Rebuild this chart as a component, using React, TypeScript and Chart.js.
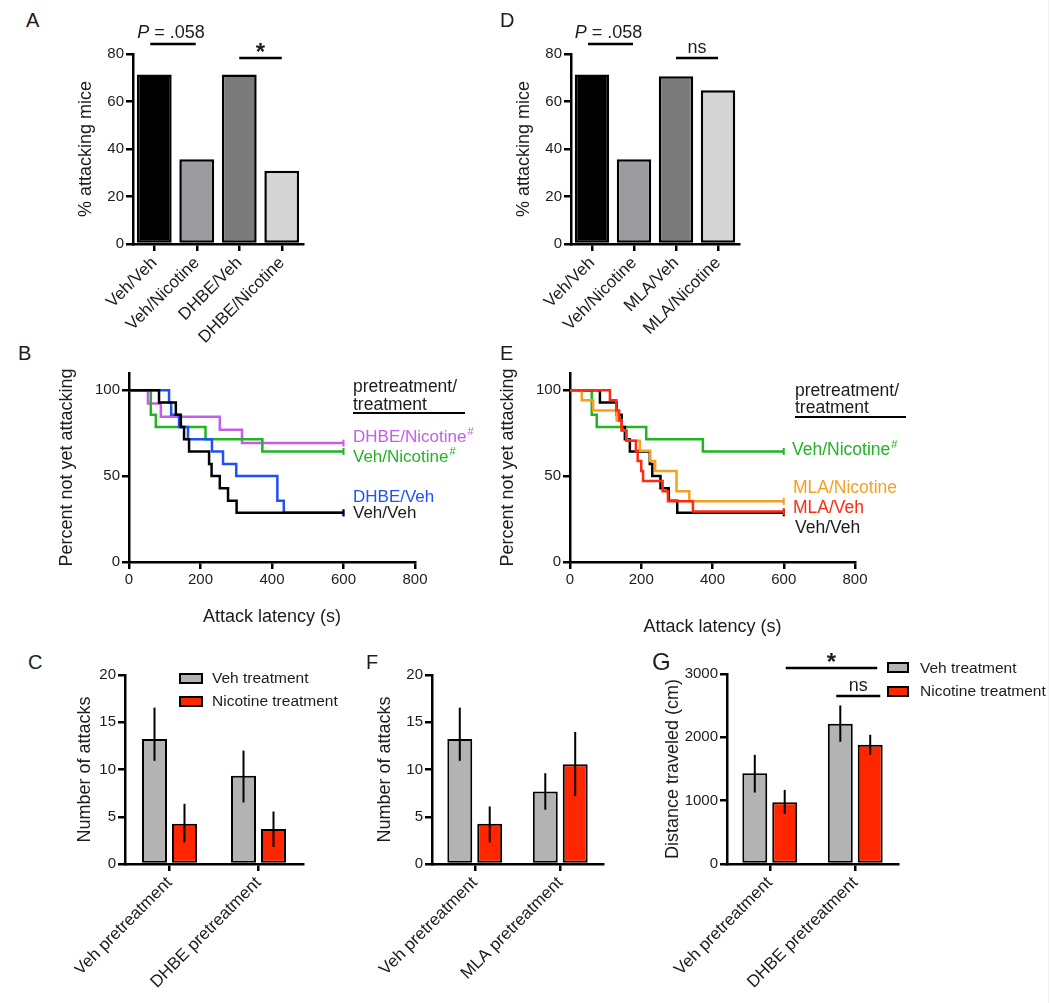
import React, { useEffect, useRef } from 'react';
import { Chart, registerables } from 'chart.js';

Chart.register(...registerables);

const FONT = '"Liberation Sans", Arial, Helvetica, sans-serif';
const INK = '#1c1c1c';

// ---------------- data ----------------
// Panel A
const aCategories = ['Veh/Veh', 'Veh/Nicotine', 'DHBE/Veh', 'DHBE/Nicotine'];
const aPercent = [71.4, 35.7, 71.4, 30.8];
// Panel D
const dCategories = ['Veh/Veh', 'Veh/Nicotine', 'MLA/Veh', 'MLA/Nicotine'];
const dPercent = [71.4, 35.7, 70.6, 64.7];
const pctBarColors = ['#000000', '#9b9ba0', '#7b7b7b', '#d4d4d4'];

// Panel B / E survival curves (time s, percent not yet attacking)
const vehVehT = [0, 84, 131, 145, 154, 168, 224, 231, 254, 277, 301, 600];
const vehVehP = [100, 92.9, 85.7, 78.6, 71.4, 64.3, 57.1, 50, 42.9, 35.7, 28.6, 28.6];
const dhbeVehT = [0, 112, 118, 140, 165, 232, 263, 300, 415, 433, 600];
const dhbeVehP = [100, 92.9, 85.7, 78.6, 71.4, 64.3, 57.1, 50, 35.7, 28.6, 28.6];
const dhbeNicT = [0, 53, 89, 254, 316, 600];
const dhbeNicP = [100, 92.3, 84.6, 76.9, 69.2, 69.2];
const vehNicT = [0, 61, 75, 214, 373, 600];
const vehNicP = [100, 85.7, 78.6, 71.4, 64.3, 64.3];
const mlaNicT = [0, 33, 65, 131, 145, 159, 196, 225, 239, 299, 335, 600];
const mlaNicP = [100, 94.1, 88.2, 82.4, 76.5, 70.6, 64.7, 58.8, 52.9, 41.2, 35.3, 35.3];
const mlaVehT = [0, 112, 130, 138, 145, 158, 185, 190, 200, 205, 260, 275, 345, 600];
const mlaVehP = [100, 94.1, 88.2, 82.4, 76.5, 70.6, 64.7, 58.8, 52.9, 47.1, 41.2, 35.3, 29.4, 29.4];

// Panel C
const cCategories = ['Veh pretreatment', 'DHBE pretreatment'];
const cVeh = [13.24, 9.33];
const cVehErr = [[10.92, 16.55], [6.51, 12.0]];
const cNic = [4.26, 3.7];
const cNicErr = [[2.29, 6.37], [1.8, 5.56]];
// Panel F
const fCategories = ['Veh pretreatment', 'MLA pretreatment'];
const fVeh = [13.24, 7.68];
const fVehErr = [[10.92, 16.55], [5.74, 9.61]];
const fNic = [4.26, 10.56];
const fNicErr = [[2.29, 6.09], [7.22, 13.98]];
// Panel G
const gCategories = ['Veh pretreatment', 'DHBE pretreatment'];
const gVeh = [1434, 2214];
const gVehErr = [[1128, 1724], [1930, 2504]];
const gNic = [975, 1882];
const gNicErr = [[791, 1170], [1724, 2040]];

const treatLabels = ['Veh treatment', 'Nicotine treatment'];

// ---------------- styling ----------------
const C_BLACK = '#000000';
const C_BLUE = '#2150f5';
const C_PURPLE = '#c45de8';
const C_GREEN = '#22b422';
const C_ORANGE = '#f7a020';
const C_RED = '#ff2a10';
const BAR_GRAY = '#b3b3b3';
const BAR_RED = '#ff2600';

type Frame = { cl: number; ct: number; cr: number; cb: number; L: number; T: number; R: number; B: number };

const FA: Frame = { cl: 75, ct: 0, cr: 330, cb: 350, L: 133, T: 54, R: 303, B: 244 };
const FD: Frame = { cl: 513, ct: 0, cr: 770, cb: 350, L: 571, T: 54, R: 739, B: 244 };
const FB: Frame = { cl: 56, ct: 360, cr: 480, cb: 628, L: 129, T: 373, R: 415, B: 562 };
const FE: Frame = { cl: 497, ct: 360, cr: 920, cb: 638, L: 570, T: 373, R: 855, B: 562 };
const FC: Frame = { cl: 74, ct: 660, cr: 320, cb: 1003, L: 125, T: 675, R: 303, B: 864 };
const FF: Frame = { cl: 374, ct: 660, cr: 615, cb: 1003, L: 432, T: 675, R: 603, B: 864 };
const FG: Frame = { cl: 662, ct: 640, cr: 910, cb: 1003, L: 727, T: 674, R: 898, B: 864 };
const FRAMES = [FA, FD, FB, FE, FC, FF, FG];

const axisGrid = {
  display: true,
  drawOnChartArea: false,
  drawTicks: true,
  tickLength: 7,
  lineWidth: 2.5,
  color: '#000',
};
const axisBorder = { display: true, color: '#000', width: 2.5 };

function baseOptions(f: Frame) {
  return {
    responsive: false,
    maintainAspectRatio: false,
    animation: false,
    events: [],
    layout: {
      autoPadding: false,
      padding: { left: 0, top: f.T - f.ct, right: f.cr - f.R, bottom: 0 },
    },
    plugins: { legend: { display: false }, tooltip: { enabled: false } },
  };
}

function yLinear(f: Frame, min: number, max: number, step: number, title: string, keepEvery?: number) {
  return {
    type: 'linear',
    min,
    max,
    afterFit: (s: any) => {
      s.width = f.L - f.cl;
      s.paddingTop = 0;
      s.paddingBottom = 0;
    },
    afterBuildTicks: (s: any) => {
      if (keepEvery) s.ticks = s.ticks.filter((t: any) => t.value % keepEvery === 0);
    },
    ticks: {
      stepSize: step,
      font: { family: FONT, size: 15 },
      color: INK,
      padding: 2,
      callback: (v: any) => String(v),
    },
    grid: axisGrid,
    border: axisBorder,
    title: { display: true, text: title, font: { family: FONT, size: 18 }, color: INK, padding: 0 },
  };
}

function xCategory(f: Frame, size: number) {
  return {
    type: 'category',
    offset: true,
    afterFit: (s: any) => {
      s.height = f.cb - f.B;
      s.paddingLeft = 0;
      s.paddingRight = 0;
    },
    ticks: {
      font: { family: FONT, size },
      color: INK,
      minRotation: 45,
      maxRotation: 45,
      autoSkip: false,
      padding: 2,
    },
    grid: { ...axisGrid, offset: false },
    border: axisBorder,
  };
}

function xLatency(f: Frame) {
  return {
    type: 'linear',
    min: 0,
    max: 800,
    afterFit: (s: any) => {
      s.height = f.cb - f.B;
      s.paddingLeft = 0;
      s.paddingRight = 0;
    },
    ticks: { stepSize: 200, font: { family: FONT, size: 15 }, color: INK, padding: 2, maxRotation: 0 },
    grid: axisGrid,
    border: axisBorder,
    title: { display: true, text: 'Attack latency (s)', font: { family: FONT, size: 18 }, color: INK, padding: 0 },
  };
}

type Sig = { a: number; da: number; b: number; db: number; y: number; label: string; italic?: string };

function sigPlugin(items: Sig[]) {
  return {
    id: 'sig',
    afterDraw(chart: any) {
      const { ctx } = chart;
      const xs = chart.scales.x;
      const ys = chart.scales.y;
      items.forEach((it) => {
        const x1 = xs.getPixelForValue(it.a) + it.da;
        const x2 = xs.getPixelForValue(it.b) + it.db;
        const y = ys.getPixelForValue(it.y);
        ctx.save();
        ctx.strokeStyle = '#000';
        ctx.lineWidth = 2.5;
        ctx.beginPath();
        ctx.moveTo(x1, y);
        ctx.lineTo(x2, y);
        ctx.stroke();
        const cx = (x1 + x2) / 2;
        ctx.fillStyle = INK;
        ctx.textBaseline = 'alphabetic';
        if (it.label === '*') {
          ctx.font = `bold 24px ${FONT}`;
          ctx.textAlign = 'center';
          ctx.fillText('*', cx, y + 2);
        } else if (it.italic) {
          ctx.font = `italic 18px ${FONT}`;
          const w1 = ctx.measureText(it.italic).width;
          ctx.font = `18px ${FONT}`;
          const w2 = ctx.measureText(it.label).width;
          const sx = cx - (w1 + w2) / 2 - 2;
          ctx.textAlign = 'left';
          ctx.font = `italic 18px ${FONT}`;
          ctx.fillText(it.italic, sx, y - 6);
          ctx.font = `18px ${FONT}`;
          ctx.fillText(it.label, sx + w1, y - 6);
        } else {
          ctx.font = `18px ${FONT}`;
          ctx.textAlign = 'center';
          ctx.fillText(it.label, cx, y - 5);
        }
        ctx.restore();
      });
    },
  };
}

const errorBarPlugin = {
  id: 'errbars',
  afterDatasetsDraw(chart: any) {
    const { ctx } = chart;
    const ys = chart.scales.y;
    chart.data.datasets.forEach((ds: any, di: number) => {
      if (!ds.errs) return;
      const meta = chart.getDatasetMeta(di);
      meta.data.forEach((bar: any, i: number) => {
        const [lo, hi] = ds.errs[i];
        ctx.save();
        ctx.strokeStyle = '#000';
        ctx.lineWidth = 2;
        ctx.beginPath();
        ctx.moveTo(bar.x, ys.getPixelForValue(lo));
        ctx.lineTo(bar.x, ys.getPixelForValue(hi));
        ctx.stroke();
        ctx.restore();
      });
    });
  },
};

function pctBarConfig(f: Frame, labels: string[], values: number[], sigs: Sig[]) {
  return {
    type: 'bar',
    data: {
      labels,
      datasets: [
        {
          data: values,
          backgroundColor: pctBarColors,
          borderColor: '#000',
          borderWidth: 2.5,
          borderSkipped: false,
          barPercentage: 0.82,
          categoryPercentage: 1,
        },
      ],
    },
    options: {
      ...baseOptions(f),
      scales: { x: xCategory(f, 17), y: yLinear(f, 0, 80, 20, '% attacking mice') },
    },
    plugins: [sigPlugin(sigs)],
  };
}

function km(T: number[], P: number[], color: string) {
  return {
    data: T.map((t, i) => ({ x: t, y: P[i] })),
    borderColor: color,
    backgroundColor: color,
    borderWidth: 2.5,
    stepped: 'before',
    fill: false,
    pointStyle: 'line',
    pointRotation: 90,
    pointRadius: T.map((_, i) => (i === T.length - 1 ? 3.5 : 0)),
    pointBorderWidth: 2,
    pointBorderColor: color,
  };
}

function kmConfig(f: Frame, datasets: any[]) {
  return {
    type: 'line',
    data: { datasets },
    options: {
      ...baseOptions(f),
      scales: { x: xLatency(f), y: yLinear(f, 0, 110, 50, 'Percent not yet attacking', 50) },
    },
  };
}

function groupedConfig(
  f: Frame,
  labels: string[],
  veh: number[],
  vehErr: number[][],
  nic: number[],
  nicErr: number[][],
  yMax: number,
  yStep: number,
  yTitle: string,
  catPct: number,
  sigs: Sig[]
) {
  const common = {
    borderColor: '#000',
    borderWidth: 2,
    borderSkipped: false,
    categoryPercentage: catPct,
    barPercentage: 0.833,
  };
  return {
    type: 'bar',
    data: {
      labels,
      datasets: [
        { label: treatLabels[0], data: veh, errs: vehErr, backgroundColor: BAR_GRAY, ...common },
        { label: treatLabels[1], data: nic, errs: nicErr, backgroundColor: BAR_RED, ...common },
      ],
    },
    options: {
      ...baseOptions(f),
      scales: { x: xCategory(f, 17), y: yLinear(f, 0, yMax, yStep, yTitle) },
    },
    plugins: [errorBarPlugin, sigPlugin(sigs)],
  };
}

function buildConfigs(): any[] {
  return [
    pctBarConfig(FA, aCategories, aPercent, [
      { a: 0, da: -4, b: 1, db: -1, y: 84.2, label: ' = .058', italic: 'P' },
      { a: 2, da: 0, b: 3, db: 0, y: 78.3, label: '*' },
    ]),
    pctBarConfig(FD, dCategories, dPercent, [
      { a: 0, da: -4, b: 1, db: -1, y: 84.2, label: ' = .058', italic: 'P' },
      { a: 2, da: 0, b: 3, db: 0, y: 78.3, label: 'ns' },
    ]),
    kmConfig(FB, [
      km(vehVehT, vehVehP, C_BLACK),
      km(dhbeVehT, dhbeVehP, C_BLUE),
      km(vehNicT, vehNicP, C_GREEN),
      km(dhbeNicT, dhbeNicP, C_PURPLE),
    ]),
    kmConfig(FE, [
      km(mlaVehT, mlaVehP, C_RED),
      km(mlaNicT, mlaNicP, C_ORANGE),
      km(vehVehT, vehVehP, C_BLACK),
      km(vehNicT, vehNicP, C_GREEN),
    ]),
    groupedConfig(FC, cCategories, cVeh, cVehErr, cNic, cNicErr, 20, 5, 'Number of attacks', 0.674, []),
    groupedConfig(FF, fCategories, fVeh, fVehErr, fNic, fNicErr, 20, 5, 'Number of attacks', 0.7, []),
    groupedConfig(FG, gCategories, gVeh, gVehErr, gNic, gNicErr, 3000, 1000, 'Distance traveled (cm)', 0.7, [
      { a: 0, da: 16, b: 1, db: 22, y: 3095, label: '*' },
      { a: 1, da: -19, b: 1, db: 25, y: 2653, label: 'ns' },
    ]),
  ];
}

const abs = (left: number, top: number, extra: React.CSSProperties = {}): React.CSSProperties => ({
  position: 'absolute',
  left,
  top,
  ...extra,
});

function Txt(props: { x: number; cy: number; color?: string; size?: number; children: React.ReactNode }) {
  const size = props.size ?? 17.5;
  return (
    <div
      style={abs(props.x, props.cy - 10, {
        fontFamily: FONT,
        fontSize: size,
        lineHeight: '20px',
        color: props.color ?? INK,
        whiteSpace: 'nowrap',
      })}
    >
      {props.children}
    </div>
  );
}

const Hash = () => (
  <span style={{ fontSize: 11, position: 'relative', top: -7, marginLeft: 1 }}>#</span>
);

function Letter(props: { x: number; y: number; t: string; size?: number }) {
  const size = props.size ?? 20;
  return (
    <div style={abs(props.x, props.y, { fontFamily: FONT, fontSize: size, lineHeight: `${size}px`, color: INK })}>
      {props.t}
    </div>
  );
}

function HLine(props: { x1: number; x2: number; y: number }) {
  return <div style={abs(props.x1, props.y - 1.25, { width: props.x2 - props.x1, height: 2.5, background: '#000' })} />;
}

function LegendBox(props: { x: number; y: number; w: number; h: number; color: string }) {
  return (
    <div
      style={abs(props.x, props.y, {
        width: props.w,
        height: props.h,
        background: props.color,
        border: '2px solid #000',
        boxSizing: 'border-box',
      })}
    />
  );
}

export default function App() {
  const refs = useRef<(HTMLCanvasElement | null)[]>([]);

  useEffect(() => {
    Chart.defaults.font.family = FONT;
    Chart.defaults.color = INK;
    const cfgs = buildConfigs();
    const charts = cfgs.map((cfg, i) => new Chart(refs.current[i] as HTMLCanvasElement, cfg));
    return () => charts.forEach((c) => c.destroy());
  }, []);

  return (
    <div style={abs(0, 0, { width: 1050, height: 1003, background: '#ffffff', overflow: 'hidden' })}>
      {FRAMES.map((f, i) => (
        <canvas
          key={i}
          ref={(el) => {
            refs.current[i] = el;
          }}
          width={f.cr - f.cl}
          height={f.cb - f.ct}
          style={abs(f.cl, f.ct, { width: f.cr - f.cl, height: f.cb - f.ct })}
        />
      ))}

      {/* panel letters */}
      <Letter x={26} y={10} t="A" />
      <Letter x={500} y={10} t="D" />
      <Letter x={18} y={343} t="B" />
      <Letter x={500} y={343} t="E" />
      <Letter x={28} y={652} t="C" />
      <Letter x={366} y={652} t="F" />
      <Letter x={652} y={650} t="G" size={24} />

      {/* panel B legend */}
      <Txt x={353} cy={386}>pretreatment/</Txt>
      <Txt x={353} cy={404}>treatment</Txt>
      <HLine x1={353} x2={465} y={413} />
      <Txt x={353} cy={437} color={C_PURPLE} size={17}>
        DHBE/Nicotine<Hash />
      </Txt>
      <Txt x={353} cy={457} color={C_GREEN} size={17}>
        Veh/Nicotine<Hash />
      </Txt>
      <Txt x={353} cy={497} color={C_BLUE} size={17}>
        DHBE/Veh
      </Txt>
      <Txt x={353} cy={513} size={17}>
        Veh/Veh
      </Txt>

      {/* panel E legend */}
      <Txt x={795} cy={390}>pretreatment/</Txt>
      <Txt x={795} cy={407}>treatment</Txt>
      <HLine x1={795} x2={906} y={417} />
      <Txt x={792} cy={449} color={C_GREEN}>
        Veh/Nicotine<Hash />
      </Txt>
      <Txt x={793} cy={487} color={C_ORANGE}>
        MLA/Nicotine
      </Txt>
      <Txt x={793} cy={507} color={C_RED}>
        MLA/Veh
      </Txt>
      <Txt x={795} cy={527}>Veh/Veh</Txt>

      {/* panel C legend */}
      <LegendBox x={179} y={673} w={24} h={11} color={BAR_GRAY} />
      <LegendBox x={179} y={696} w={24} h={11} color={BAR_RED} />
      <Txt x={212} cy={678} size={15.5}>
        {treatLabels[0]}
      </Txt>
      <Txt x={212} cy={701} size={15.5}>
        {treatLabels[1]}
      </Txt>

      {/* panel G legend */}
      <LegendBox x={887} y={662} w={22} h={11} color={BAR_GRAY} />
      <LegendBox x={887} y={686} w={22} h={11} color={BAR_RED} />
      <Txt x={920} cy={668} size={15.5}>
        {treatLabels[0]}
      </Txt>
      <Txt x={920} cy={691} size={15.5}>
        {treatLabels[1]}
      </Txt>

      <div style={abs(1048, 0, { width: 1, height: 1003, background: '#eceef4' })} />
    </div>
  );
}
